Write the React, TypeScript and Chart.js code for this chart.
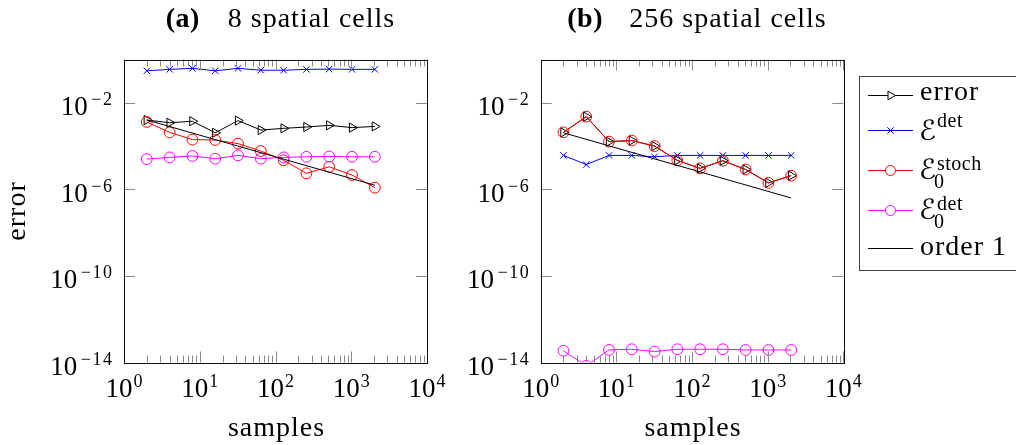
import React, { useEffect, useRef } from 'react';
import { Chart, registerables } from 'chart.js';

Chart.register(...registerables);

// ---------- data ----------
const SAMPLES = [2, 4, 8, 16, 32, 64, 128, 256, 512, 1024, 2048];
const ORDER1_SAMPLES = [2, 2048];

// (a) 8 spatial cells
const ERROR_A = [1.6e-3, 1.2e-3, 1.4e-3, 4.1e-4, 1.5e-3, 5.5e-4, 6.6e-4, 7.6e-4, 9.1e-4, 7.1e-4, 8.1e-4];
const EDET_A = [0.30, 0.35, 0.39, 0.30, 0.39, 0.32, 0.32, 0.35, 0.36, 0.35, 0.35];
const E0STOCH_A = [1.3e-3, 4.3e-4, 2.0e-4, 1.9e-4, 1.3e-4, 5.9e-5, 2.2e-5, 5.5e-6, 1.1e-5, 4.6e-6, 1.2e-6];
const E0DET_A = [2.5e-5, 3.0e-5, 3.5e-5, 2.6e-5, 3.7e-5, 2.6e-5, 3.0e-5, 3.2e-5, 3.3e-5, 3.2e-5, 3.2e-5];
const ORDER1_A = [1.6e-3, 1.55e-6];

// (b) 256 spatial cells
const ERROR_B = [4.3e-4, 2.3e-3, 1.6e-4, 1.8e-4, 1.0e-4, 2.2e-5, 9.3e-6, 2.1e-5, 8.3e-6, 2.0e-6, 4.3e-6];
const EDET_B = [3.7e-5, 1.4e-5, 3.7e-5, 3.7e-5, 3.2e-5, 3.7e-5, 3.7e-5, 3.7e-5, 3.7e-5, 3.7e-5, 3.7e-5];
const E0STOCH_B = [4.3e-4, 2.3e-3, 1.6e-4, 1.8e-4, 1.0e-4, 2.2e-5, 9.3e-6, 2.1e-5, 8.3e-6, 2.0e-6, 4.3e-6];
const E0DET_B = [3.5e-14, 7e-15, 3.8e-14, 4.1e-14, 3.2e-14, 4.1e-14, 4.1e-14, 4.1e-14, 3.8e-14, 3.8e-14, 3.8e-14];
const ORDER1_B = [4.1e-4, 4.0e-7];

// ticks
const X_MAJOR_TICKS = [1, 10, 100, 1000, 10000];
const X_TICK_EXPONENTS = ['0', '1', '2', '3', '4'];
const X_MINOR_MANTISSAS = [2, 3, 4, 5, 6, 7, 8, 9];
const X_MINOR_DECADES = [1, 10, 100, 1000];
const Y_MAJOR_TICKS = [1e-14, 1e-10, 1e-6, 1e-2];
const Y_TICK_EXPONENTS = ['\u221214', '\u221210', '\u22126', '\u22122'];

const TITLES = [
  { tag: '(a)', text: '8 spatial cells' },
  { tag: '(b)', text: '256 spatial cells' },
];

// ---------- styling ----------
const SERIF = '"Liberation Serif", "DejaVu Serif", serif';
const SCRIPT = '"Liberation Serif", "DejaVu Serif", "DejaVu Sans", "Noto Sans", serif';
const BLACK = '#000000';
const BLUE = '#0000ff';
const RED = '#ff0000';
const MAGENTA = '#ff00ff';
const NONE = 'rgba(0,0,0,0)';

function ser(label: string, xs: number[], ys: number[], style: any, order: number) {
  return {
    label,
    data: xs.map((x, i) => ({ x, y: ys[i] })),
    borderWidth: 1,
    pointBorderWidth: 1,
    pointBackgroundColor: NONE,
    backgroundColor: NONE,
    fill: false,
    tension: 0,
    order,
    ...style,
  };
}

const ERR_STYLE = { borderColor: BLACK, pointBorderColor: BLACK, pointStyle: 'triangle', pointRotation: 90, pointRadius: 5.3 };
const DET_STYLE = { borderColor: BLUE, pointBorderColor: BLUE, pointStyle: 'crossRot', pointRadius: 4.6 };
const STOCH_STYLE = { borderColor: RED, pointBorderColor: RED, pointStyle: 'circle', pointRadius: 5.4 };
const DET0_STYLE = { borderColor: MAGENTA, pointBorderColor: MAGENTA, pointStyle: 'circle', pointRadius: 5.4 };
const ORDER_STYLE = { borderColor: BLACK, pointRadius: 0 };

function datasets(err: number[], det: number[], stoch: number[], det0: number[], ord: number[]) {
  return [
    ser('error', SAMPLES, err, ERR_STYLE, 5),
    ser('Edet', SAMPLES, det, DET_STYLE, 4),
    ser('E0stoch', SAMPLES, stoch, STOCH_STYLE, 3),
    ser('E0det', SAMPLES, det0, DET0_STYLE, 2),
    ser('order 1', ORDER1_SAMPLES, ord, ORDER_STYLE, 1),
  ];
}

function drawLegend(ctx: CanvasRenderingContext2D, ox: number) {
  const X = (v: number) => v - ox;
  ctx.save();
  ctx.strokeStyle = '#444';
  ctx.lineWidth = 1;
  ctx.strokeRect(X(859.5), 76.5, 200, 194);
  const entries = [
    { main: 'error', lineY: 95, base: 100, color: BLACK, marker: 'tri' },
    { main: '\u2130', sup: 'det', lineY: 130, base: 140, supBase: 126.5, color: BLUE, marker: 'cross' },
    { main: '\u2130', sup: 'stoch', sub: '0', lineY: 170, base: 179, supBase: 169.5, subBase: 188, color: RED, marker: 'circle' },
    { main: '\u2130', sup: 'det', sub: '0', lineY: 210, base: 219, supBase: 209.5, subBase: 228, color: MAGENTA, marker: 'circle' },
    { main: 'order 1', lineY: 248, base: 255, color: BLACK, marker: '' },
  ];
  for (const e of entries) {
    const y = e.lineY + 0.5;
    ctx.strokeStyle = e.color;
    ctx.lineWidth = 1;
    ctx.beginPath();
    ctx.moveTo(X(868), y);
    ctx.lineTo(X(913), y);
    ctx.stroke();
    const cx = X(890.5);
    ctx.beginPath();
    if (e.marker === 'tri') {
      const r = 5;
      ctx.moveTo(cx + r, y);
      ctx.lineTo(cx - r / 2, y - r * 0.866);
      ctx.lineTo(cx - r / 2, y + r * 0.866);
      ctx.closePath();
      ctx.fillStyle = '#fff';
      ctx.fill();
      ctx.stroke();
    } else if (e.marker === 'cross') {
      const d = 3.2;
      ctx.moveTo(cx - d, y - d); ctx.lineTo(cx + d, y + d);
      ctx.moveTo(cx - d, y + d); ctx.lineTo(cx + d, y - d);
      ctx.stroke();
    } else if (e.marker === 'circle') {
      ctx.arc(cx, y, 5, 0, Math.PI * 2);
      ctx.fillStyle = '#fff';
      ctx.fill();
      ctx.stroke();
    }
    ctx.fillStyle = BLACK;
    ctx.textAlign = 'left';
    ctx.textBaseline = 'alphabetic';
    (ctx as any).letterSpacing = '1px';
    if (!e.sup) {
      ctx.font = `28px ${SERIF}`;
      ctx.fillText(e.main, X(920), e.base);
    } else {
      ctx.font = `28px ${SCRIPT}`;
      (ctx as any).letterSpacing = '0px';
      ctx.fillText(e.main, X(919), e.base);
      (ctx as any).letterSpacing = '0.5px';
      ctx.font = `20px ${SERIF}`;
      ctx.fillText(e.sup, X(937), e.supBase as number);
      if (e.sub) ctx.fillText(e.sub, X(934), e.subBase as number);
    }
  }
  ctx.restore();
}

function makePlugin(idx: number, withYTitle: boolean, withLegend: boolean, offsetX: number) {
  return {
    id: 'pgfAxes' + idx,
    afterDraw(chart: any) {
      const ctx: CanvasRenderingContext2D = chart.ctx;
      const a = chart.chartArea;
      const xs = chart.scales.x;
      const ys = chart.scales.y;
      ctx.save();
      // tick marks
      ctx.strokeStyle = '#8a8a8a';
      ctx.lineWidth = 1;
      ctx.beginPath();
      for (const d of X_MINOR_DECADES) {
        for (const m of X_MINOR_MANTISSAS) {
          const px = Math.round(xs.getPixelForValue(m * d)) + 0.5;
          ctx.moveTo(px, a.bottom); ctx.lineTo(px, a.bottom - 7);
          ctx.moveTo(px, a.top); ctx.lineTo(px, a.top + 7);
        }
      }
      for (const v of X_MAJOR_TICKS) {
        const px = Math.round(xs.getPixelForValue(v)) + 0.5;
        ctx.moveTo(px, a.bottom); ctx.lineTo(px, a.bottom - 11);
        ctx.moveTo(px, a.top); ctx.lineTo(px, a.top + 11);
      }
      for (const v of Y_MAJOR_TICKS) {
        const py = Math.round(ys.getPixelForValue(v)) + 0.5;
        ctx.moveTo(a.left, py); ctx.lineTo(a.left + 11, py);
        ctx.moveTo(a.right, py); ctx.lineTo(a.right - 11, py);
      }
      ctx.stroke();
      // frame
      ctx.strokeStyle = '#111';
      ctx.strokeRect(Math.round(a.left) + 0.5, Math.round(a.top) + 0.5, Math.round(a.right - a.left), Math.round(a.bottom - a.top));
      // labels
      ctx.fillStyle = BLACK;
      ctx.textBaseline = 'alphabetic';
      (ctx as any).letterSpacing = '0px';
      X_MAJOR_TICKS.forEach((v, i) => {
        const px = xs.getPixelForValue(v);
        ctx.font = `27px ${SERIF}`;
        const wb = ctx.measureText('10').width;
        ctx.font = `18px ${SERIF}`;
        const we = ctx.measureText(X_TICK_EXPONENTS[i]).width;
        const sx = px - (wb + 1 + we) / 2;
        ctx.textAlign = 'left';
        ctx.font = `27px ${SERIF}`;
        ctx.fillText('10', sx, a.bottom + 34.2);
        ctx.font = `18px ${SERIF}`;
        ctx.fillText(X_TICK_EXPONENTS[i], sx + wb + 1, a.bottom + 24.2);
      });
      Y_MAJOR_TICKS.forEach((v, i) => {
        const py = ys.getPixelForValue(v);
        ctx.textAlign = 'right';
        ctx.font = `18px ${SERIF}`;
        (ctx as any).letterSpacing = '1.5px';
        const we = ctx.measureText(Y_TICK_EXPONENTS[i]).width;
        ctx.fillText(Y_TICK_EXPONENTS[i], a.left - 10.5, py + 2.3);
        (ctx as any).letterSpacing = '0px';
        ctx.font = `27px ${SERIF}`;
        ctx.fillText('10', a.left - 12 - we - 2, py + 12.3);
      });
      // axis titles
      ctx.font = `28px ${SERIF}`;
      (ctx as any).letterSpacing = '1px';
      ctx.textAlign = 'center';
      ctx.fillText('samples', (a.left + a.right) / 2 + 1, a.bottom + 73.5);
      if (withYTitle) {
        ctx.save();
        ctx.translate(a.left - 99.5, (a.top + a.bottom) / 2);
        ctx.rotate(-Math.PI / 2);
        ctx.fillText('error', 0, 0);
        ctx.restore();
      }
      // panel title
      const t = TITLES[idx];
      ctx.textAlign = 'left';
      ctx.font = `28px ${SERIF}`;
      const mw = ctx.measureText(t.text).width;
      const total = 62 + mw;
      const x0 = (a.left + a.right) / 2 + 5 - total / 2;
      (ctx as any).letterSpacing = '0.5px';
      ctx.font = `bold 28px ${SERIF}`;
      ctx.fillText(t.tag, x0, 26.7);
      (ctx as any).letterSpacing = '1px';
      ctx.font = `28px ${SERIF}`;
      ctx.fillText(t.text, x0 + 62, 26.7);
      ctx.restore();
      if (withLegend) drawLegend(ctx, offsetX);
    },
  };
}

function makeConfig(ds: any[], padding: any, plugin: any): any {
  return {
    type: 'line',
    data: { datasets: ds },
    options: {
      animation: false,
      responsive: false,
      events: [],
      layout: { padding },
      plugins: { legend: { display: false }, tooltip: { enabled: false }, title: { display: false } },
      scales: {
        x: { type: 'logarithmic', min: 1, max: 10000, display: false },
        y: { type: 'logarithmic', min: 1e-14, max: 1, display: false },
      },
    },
    plugins: [plugin],
  };
}

export default function App() {
  const refA = useRef<HTMLCanvasElement>(null);
  const refB = useRef<HTMLCanvasElement>(null);
  useEffect(() => {
    const chartA = new Chart(
      refA.current as HTMLCanvasElement,
      makeConfig(
        datasets(ERROR_A, EDET_A, E0STOCH_A, E0DET_A, ORDER1_A),
        { left: 124, right: 33, top: 59.5, bottom: 82.5 },
        makePlugin(0, true, false, 0)
      )
    );
    const chartB = new Chart(
      refB.current as HTMLCanvasElement,
      makeConfig(
        datasets(ERROR_B, EDET_B, E0STOCH_B, E0DET_B, ORDER1_B),
        { left: 100.7, right: 172.7, top: 59.5, bottom: 82.5 },
        makePlugin(1, false, true, 440)
      )
    );
    return () => {
      chartA.destroy();
      chartB.destroy();
    };
  }, []);
  return (
    <div style={{ position: 'absolute', left: 0, top: 0, width: 1016, height: 445, overflow: 'hidden', background: '#fff' }}>
      <canvas ref={refA} width={460} height={445} style={{ position: 'absolute', left: 0, top: 0 }} />
      <canvas ref={refB} width={576} height={445} style={{ position: 'absolute', left: 440, top: 0 }} />
    </div>
  );
}
